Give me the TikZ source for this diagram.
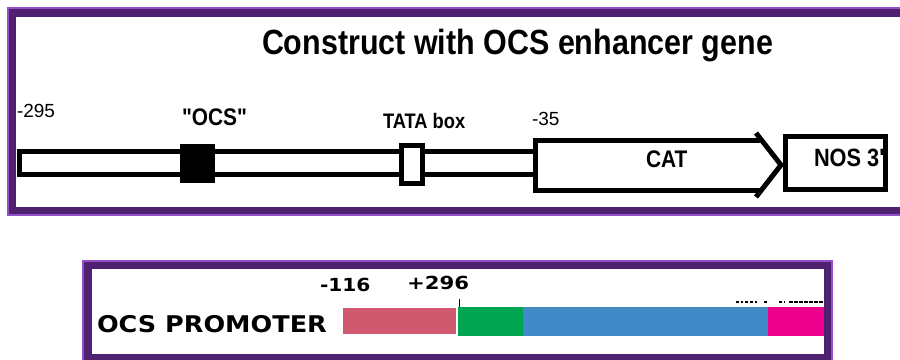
\documentclass[tikz,border=0pt]{standalone}
\usepackage{fontspec}
\setmainfont{Liberation Sans}[Ligatures=TeXOff]
\newfontfamily\heavyfont{DejaVu Sans}
\definecolor{pdark}{HTML}{4E2270}
\definecolor{plight}{HTML}{9450C8}
\definecolor{barred}{HTML}{D0596F}
\definecolor{bargreen}{HTML}{00A552}
\definecolor{barblue}{HTML}{4189C7}
\definecolor{barmag}{HTML}{EC008C}
\tikzset{
  lbl/.style={inner sep=0pt, outer sep=0pt, anchor=base west, font=\bfseries, xscale=0.87},
  num/.style={inner sep=0pt, outer sep=0pt, anchor=base west},
  heavy/.style={inner sep=0pt, outer sep=0pt, anchor=base west},
  thick5/.style={line width=5pt, line join=miter},
}
\begin{document}
\begin{tikzpicture}[x=1pt,y=-1pt]
\useasboundingbox (0,0) rectangle (900,359);
\fill[white] (0,0) rectangle (900,359);
% top frame
\fill[plight] (7,7) rectangle (920,216);
\fill[pdark] (9,9) rectangle (920,214);
\fill[white] (16,17) rectangle (920,207);
% bottom frame
\fill[plight] (82,260) rectangle (833,370);
\fill[pdark] (84,262) rectangle (831,370);
\fill[white] (92,269) rectangle (824,354);

% title
\node[lbl, xscale=1.0, font=\fontsize{35}{40}\selectfont\bfseries] (title) at (262,54) {Construct with OCS enhancer gene};

% main bar
\draw[thick5, fill=white] (19.5,151) rectangle (535,174);
% OCS box
\fill (180,144) rectangle (215,183);
\node[inner sep=0pt] (ocsbox) at (197.5,163.5) {};
% TATA box
\draw[thick5, fill=white] (401.5,145.5) rectangle (422.5,183.5);
\node[inner sep=0pt] (tatabox) at (412,164.5) {};
% CAT arrow
\fill[white] (535.5,140.5) -- (760,140.5) -- (780,165) -- (760,190.5) -- (535.5,190.5) -- cycle;
\draw[thick5] (760,140.5) -- (535.5,140.5) -- (535.5,190.5) -- (760,190.5);
\draw[thick5, line join=miter] (756,133) -- (781,165) -- (756,197);
% NOS box
\draw[thick5, fill=white] (785.5,136.5) rectangle (885.5,189.5);

% labels
\node[num, font=\fontsize{19}{22}\selectfont] (m295) at (17,117) {-295};
\node[lbl, font=\fontsize{24}{28}\selectfont\bfseries] (ocs) at (182,125) {"OCS"};
\node[lbl, font=\fontsize{21}{24}\selectfont\bfseries] (tata) at (383,128) {TATA box};
\node[num, font=\fontsize{19}{22}\selectfont] (m35) at (532,125) {-35};
\node[lbl, font=\fontsize{24}{28}\selectfont\bfseries] (cat) at (646,167) {CAT};
\node[lbl, font=\fontsize{25}{28}\selectfont\bfseries] (nos) at (814,166) {NOS 3'};

% bottom
\node[heavy, xscale=1.11, font=\heavyfont\fontsize{23}{26}\selectfont\bfseries] (prom) at (97,332) {OCS PROMOTER};
\node[heavy, xscale=1.12, font=\heavyfont\fontsize{18}{22}\selectfont\bfseries] (m116) at (320,291) {-116};
\node[heavy, xscale=1.18, font=\heavyfont\fontsize{18}{22}\selectfont\bfseries] (p296) at (407,289) {+296};
\fill[barred] (343,308) rectangle (456,334);
\fill[bargreen] (458,307) rectangle (523,336);
\fill[barblue] (523,307) rectangle (768,336);
\fill[barmag] (768,307) rectangle (824,336);
\draw[line width=1pt] (459,299) -- (459,307);
\draw[line width=1.6pt, dash pattern=on 2.5pt off 2.2pt] (736,302) -- (758,302);
\draw[line width=1.6pt] (764,302) -- (767,302);
\draw[line width=1.6pt, dash pattern=on 2.5pt off 2.2pt] (779,302) -- (784,302);
\draw[line width=1.6pt, dash pattern=on 4pt off 1pt] (789,302) -- (823,302);
\end{tikzpicture}
\end{document}
